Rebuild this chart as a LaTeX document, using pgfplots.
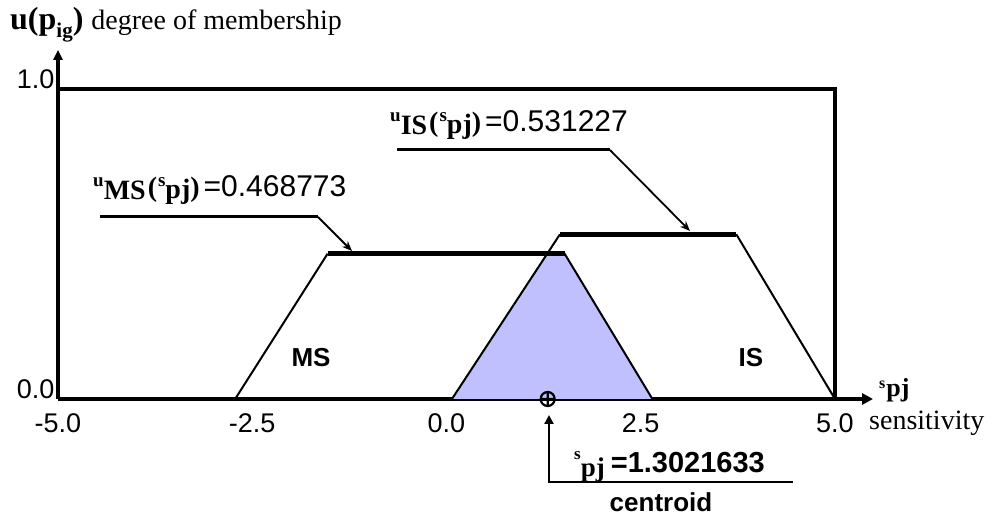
\documentclass[border=0pt]{standalone}
\usepackage{pgfplots}
\pgfplotsset{compat=1.18}
\usepackage{fontspec}
\setmainfont{Liberation Serif}
\setsansfont{Liberation Sans}
\usetikzlibrary{arrows.meta}

\definecolor{overlap}{RGB}{192,192,255}

\newcommand\fs[1]{\fontsize{#1}{#1}\selectfont}
% membership label: u_{set}(s_{pj}) = value
\newcommand\memb[2]{%
  \raisebox{10pt}{\fs{19}\bfseries u}%
  \raisebox{-3pt}{\fs{28}\bfseries #1}\kern2pt
  {\fs{28}\bfseries(}\kern1pt
  \raisebox{10pt}{\fs{19}\bfseries s}%
  \raisebox{-2pt}{\fs{28}\bfseries pj}%
  {\fs{28}\bfseries)}\kern4pt
  {\sffamily\fs{30}=#2}}

\begin{document}
\begin{tikzpicture}
\begin{axis}[
  at={(0,0)}, anchor=south west,
  scale only axis, width=777pt, height=310pt,
  xmin=-5, xmax=5, ymin=0, ymax=1,
  axis line style={draw=none},
  clip=false,
  xtick={-5,-2.5,0,2.5,5},
  xticklabels={-5.0,-2.5,0.0,2.5,5.0},
  ytick={0,1},
  yticklabels={0.0,1.0},
  major tick length=0pt,
  /pgf/number format/assume math mode=true,
  tick label style={font=\sffamily\fs{27}},
  xticklabel style={yshift=-11pt},
  yticklabel style={yshift=10pt},
]
% frame and axes
\draw[line width=3.5pt] (axis cs:-5,1) -- (axis cs:5,1) -- (axis cs:5,0);
\draw[line width=3.5pt, -{Triangle[length=11pt,width=11pt]}]
  (axis cs:-5,0) -- (axis cs:5.49,0);
\draw[line width=3.5pt, -{Triangle[length=10pt,width=9pt]}]
  (axis cs:-5,0) -- (axis cs:-5,1.126);

% overlap of MS and IS
\addplot[fill=overlap, draw=none]
  coordinates {(0.07,0) (1.2966,0.468773) (1.52,0.468773) (2.65,0)} \closedcycle;

% MS set
\addplot[line width=2pt] coordinates {(-2.72,0) (-1.53,0.468773)};
\addplot[line width=5pt] coordinates {(-1.53,0.468773) (1.52,0.468773)};
\addplot[line width=2pt] coordinates {(1.52,0.468773) (2.65,0)};

% IS set
\addplot[line width=2pt] coordinates {(0.07,0) (1.46,0.531227)};
\addplot[line width=5pt] coordinates {(1.46,0.531227) (3.73,0.531227)};
\addplot[line width=2pt] coordinates {(3.73,0.531227) (5,0)};

% centroid
\addplot[only marks, mark=oplus, mark size=7pt, mark options={line width=2.2pt}]
  coordinates {(1.3021633,0)};
\end{axis}

\begin{scope}[x=1pt, y=-1pt, shift={(-58pt,399pt)}]
% y axis title
\node[anchor=base west, inner sep=0] at (10,30)
  {{\fs{32}\bfseries u(p}\raisebox{-8pt}{\fs{21}\bfseries ig}{\fs{32}\bfseries)}\kern8pt{\fs{28}degree of membership}};
% x axis title
\node[anchor=base west, inner sep=0] at (879,397)
  {\raisebox{8pt}{\fs{16}\bfseries s}\kern1pt{\fs{26}\bfseries pj}};
\node[anchor=base west, inner sep=0] at (869,430) {\fs{28}sensitivity};

% set names
\node[anchor=base, inner sep=0, font=\sffamily\bfseries\fs{26}] at (311,367) {MS};
\node[anchor=base, inner sep=0, font=\sffamily\bfseries\fs{26}] at (751,367) {IS};

% membership annotations
\node[anchor=base west, inner sep=0] at (93,197) {\memb{MS}{0.468773}};
\draw[line width=3pt] (100,217) -- (318,217);
\draw[line width=1.8pt, -{Stealth[length=10pt,width=8pt]}] (318,217) -- (352,251);

\node[anchor=base west, inner sep=0] at (390,132) {\memb{IS}{0.531227}};
\draw[line width=3pt] (397,150) -- (610,150);
\draw[line width=1.8pt, -{Stealth[length=10pt,width=8pt]}] (610,150) -- (690,231);

% centroid annotation
\draw[line width=2.2pt, {Triangle[length=9pt,width=9pt]}-] (549,415) -- (549,482) -- (793,482);
\node[anchor=base west, inner sep=0] at (574,473)
  {\raisebox{13pt}{\fs{17}\bfseries s}\raisebox{-4pt}{\fs{27}\bfseries pj}\kern6pt{\sffamily\bfseries\fs{29}=1.3021633}};
\node[anchor=base, inner sep=0, font=\sffamily\bfseries\fs{26}] at (661,512) {centroid};

\pgfresetboundingbox
\path (0,0) rectangle (1005,519);
\end{scope}
\end{tikzpicture}
\end{document}
